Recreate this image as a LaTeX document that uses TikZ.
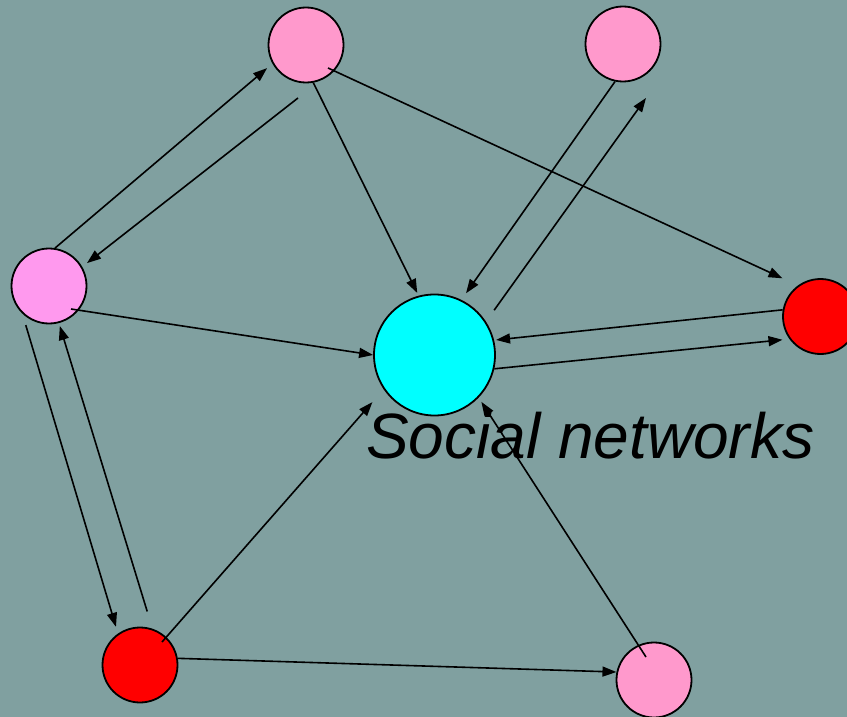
\documentclass[tikz,border=0pt]{standalone}
\usepackage{fontspec}
\setmainfont{Liberation Sans}
\usepackage{xcolor}
\usetikzlibrary{arrows.meta,calc}
\definecolor{bg}{RGB}{128,160,160}
\definecolor{rose}{RGB}{255,153,204}
\definecolor{orchid}{RGB}{255,153,238}
\definecolor{aqua}{RGB}{0,255,255}
\definecolor{scarlet}{RGB}{255,0,0}

\begin{document}
\begin{tikzpicture}[x=1pt,y=-1pt,
    person/.style={circle,draw,line width=1.8pt,minimum size=75pt,inner sep=0pt},
    link/.style={line width=1.6pt,-{Triangle[length=14pt,width=10pt]}}]
    \fill[bg](0,0) rectangle (847,717);
    \useasboundingbox (0,0) rectangle (847,717);
    \node[person,fill=rose](top) at (306,45) {};
    \node[person,fill=rose](topright) at (623,44) {};
    \node[person,fill=orchid](left) at (49,286) {};
    \node[person,fill=aqua,minimum size=121pt](hub) at (434.5,355) {}; % Hub
    \node[person,fill=scarlet](right) at (820.5,316.5) {};
    \node[person,fill=scarlet](botleft) at (140,665) {};
    \node[person,fill=rose](botright) at (654,680) {};
    \coordinate (topfree) at (298,98);
    \coordinate (trfree) at (646,98);
    \node[font=\itshape\fontsize{64}{70}\selectfont,anchor=base west,inner sep=0pt](caption) at (366,458) {Social networks};
    \draw[link,shorten >=7pt](left.81) -- (top.209);
    \draw[link,shorten >=6pt](topfree) -- (left.30);
    \draw[link,shorten >=3pt](top.-79) -- (hub.105);
    \draw[link,shorten >=17pt]($(top)+(22,23)$) -- (right.126);
    \draw[link,shorten >=8pt](topright.-102) -- (hub.64);
    \draw[link,shorten <=14pt](hub.33) -- (trfree);
    \draw[link,shorten >=2pt](right.170) -- (hub.14);
    \draw[link,shorten >=7pt](hub.-13) -- (right.-144);
    \draw[link]($(left)+(22,23)$) -- (hub.180);
    \draw[link,shorten <=12pt,shorten >=7pt](left.-134) -- (botleft.125);
    \draw[link,shorten <=18pt,shorten >=3pt](botleft.71) -- (left.-75);
    \draw[link,shorten >=17pt]($(botleft)+(22,-23)$) -- (hub.-146);
    \draw[link](botleft.10) -- (botright.168);
    \draw[link,shorten >=5pt]($(botright)+(-8,-23)$) -- (hub.-44);
  \end{tikzpicture}
\end{document}
